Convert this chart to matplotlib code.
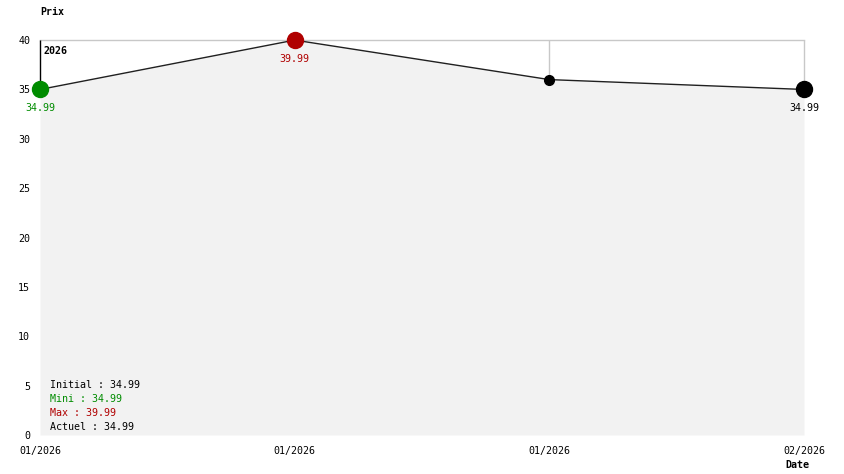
import numpy as np
import matplotlib.pyplot as plt

# data
dates = ["01/2026", "01/2026", "01/2026", "02/2026"]
prix = [34.99, 39.99, 35.99, 34.99]
year_label = "2026"

initial, mini, maxi, actuel = 34.99, 34.99, 39.99, 34.99

green = "#008c00"
red = "#b00000"
mono = "DejaVu Sans Mono"
fs = 7.2

fig = plt.figure(figsize=(8.44, 4.74), dpi=100)
ax = fig.add_axes([40/844, 39/474, 764/844, 395/474])

x = np.arange(len(prix))
ax.set_xlim(0, len(prix) - 1)
ax.set_ylim(0, 40)

# grid above the curve only: top border + vertical lines down to the curve
ax.vlines(x[1:], prix[1:], 40, color="#c8c8c8", lw=1, zorder=1, clip_on=False)
ax.axhline(40, color="#c8c8c8", lw=1, zorder=1, clip_on=False)
ax.vlines(0, prix[0], 40, color="black", lw=1, zorder=1, clip_on=False)

ax.fill_between(x, 0, prix, color="#f2f2f2", lw=0, zorder=2)
ax.plot(x, prix, color="#202020", lw=1, zorder=3)

# markers
imax = int(np.argmax(prix))
for i, v in enumerate(prix):
    if i == 0:
        c, ms = green, 11.5
    elif i == imax:
        c, ms = red, 11.5
    elif i == len(prix) - 1:
        c, ms = "black", 11.5
    else:
        c, ms = "black", 7
    ax.plot(x[i], v, "o", color=c, ms=ms, zorder=4, clip_on=False)

for i, c in [(0, green), (imax, red), (len(prix) - 1, "black")]:
    ax.annotate(f"{prix[i]:.2f}", (x[i], prix[i]), xytext=(0, -19), textcoords="offset pixels",
                ha="center", va="center", color=c, fontsize=fs, family=mono)

for s in ax.spines.values():
    s.set_visible(False)

ax.set_yticks(range(0, 41, 5))
ax.set_xticks(x)
ax.set_xticklabels(dates)
ax.tick_params(length=0, labelsize=fs)
ax.tick_params(axis="y", pad=7)
ax.tick_params(axis="x", pad=8)
for lab in ax.get_xticklabels() + ax.get_yticklabels():
    lab.set_family(mono)

fig.text(40/844, 1 - 12/474, "Prix", ha="left", va="center", fontsize=fs, family=mono, weight="bold")
fig.text(797/844, 1 - 465/474, "Date", ha="center", va="center", fontsize=fs, family=mono, weight="bold")
fig.text(43/844, 1 - 51/474, year_label, ha="left", va="center", fontsize=fs, family=mono, weight="bold")

legend_lines = [
    (f"Initial : {initial:.2f}", "black"),
    (f"Mini : {mini:.2f}", green),
    (f"Max : {maxi:.2f}", red),
    (f"Actuel : {actuel:.2f}", "black"),
]
for k, (txt, c) in enumerate(legend_lines):
    fig.text(50/844, 1 - (385 + 14*k)/474, txt, ha="left", va="center",
             fontsize=fs, family=mono, color=c)

fig.savefig("out.png", dpi=100)
